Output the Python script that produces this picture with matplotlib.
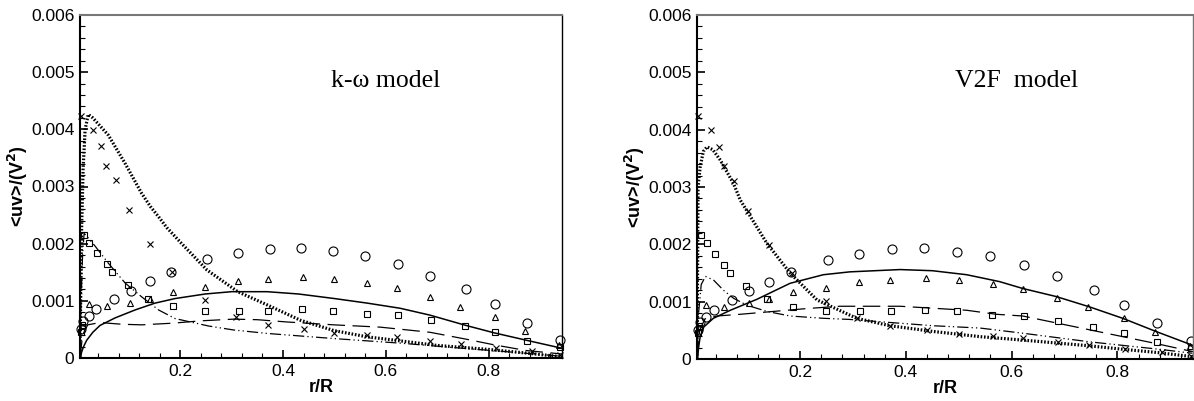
import numpy as np
import matplotlib.pyplot as plt
from matplotlib.ticker import MultipleLocator, FuncFormatter

# --- experimental points (same in both panels) ---
r_circ = [0.006, 0.010, 0.022, 0.037, 0.071, 0.104, 0.141, 0.182, 0.252, 0.312, 0.374, 0.435,
          0.497, 0.560, 0.623, 0.686, 0.756, 0.812, 0.874, 0.940]
uv_circ = [0.00050, 0.00064, 0.00074, 0.00085, 0.00103, 0.00118, 0.00135, 0.00151, 0.00173, 0.00183,
           0.00191, 0.00193, 0.00187, 0.00179, 0.00164, 0.00144, 0.00120, 0.00094, 0.00062, 0.00031]

r_tri = [0.022, 0.057, 0.103, 0.141, 0.186, 0.249, 0.312, 0.370, 0.438, 0.500, 0.564, 0.622,
         0.686, 0.744, 0.812, 0.871, 0.938]
uv_tri = [0.00095, 0.00091, 0.00097, 0.00104, 0.00116, 0.00124, 0.00135, 0.00138, 0.00142, 0.00138,
          0.00131, 0.00122, 0.00107, 0.00090, 0.00071, 0.00047, 0.00022]

r_sq = [0.006, 0.009, 0.012, 0.023, 0.039, 0.057, 0.068, 0.098, 0.138, 0.186, 0.249, 0.314, 0.371,
        0.437, 0.497, 0.563, 0.624, 0.688, 0.754, 0.812, 0.874, 0.939]
uv_sq = [0.00046, 0.00058, 0.00216, 0.00202, 0.00183, 0.00164, 0.00150, 0.00127, 0.00104, 0.00091,
         0.00083, 0.00083, 0.00083, 0.00085, 0.00083, 0.00077, 0.00075, 0.00066, 0.00056, 0.00045,
         0.00030, 0.00020]

r_x = [0.007, 0.031, 0.046, 0.056, 0.075, 0.101, 0.142, 0.185, 0.249, 0.308, 0.370, 0.440, 0.500,
       0.564, 0.622, 0.687, 0.747, 0.815, 0.885, 0.940]
uv_x = [0.00424, 0.00399, 0.00370, 0.00336, 0.00311, 0.00259, 0.00199, 0.00150, 0.00102, 0.00071,
        0.00058, 0.00051, 0.00043, 0.00040, 0.00036, 0.00029, 0.00024, 0.00017, 0.00013, 0.00005]

# --- k-omega model ---
kw_r_dot = [0.005, 0.006, 0.008, 0.011, 0.015, 0.021, 0.030, 0.045, 0.060, 0.093, 0.125, 0.142,
            0.158, 0.174, 0.203, 0.252, 0.312, 0.369, 0.434, 0.499, 0.564, 0.628, 0.700, 0.800,
            0.870, 0.943]
kw_uv_dot = [0.0, 0.0008, 0.0022, 0.0033, 0.0040, 0.00426, 0.00420, 0.00405, 0.00390, 0.00340,
             0.00288, 0.00265, 0.00247, 0.00228, 0.00200, 0.00154, 0.00116, 0.00093, 0.00066,
             0.00048, 0.00037, 0.00030, 0.00022, 0.00015, 0.00009, 0.00002]

kw_r_sol = [0.006, 0.008, 0.012, 0.018, 0.030, 0.044, 0.073, 0.112, 0.151, 0.190, 0.249, 0.300,
            0.369, 0.430, 0.500, 0.564, 0.628, 0.686, 0.756, 0.811, 0.874, 0.943]
kw_uv_sol = [0.0, 0.00010, 0.00020, 0.00031, 0.00045, 0.00057, 0.00070, 0.00084, 0.00096, 0.00104,
             0.00112, 0.00116, 0.00116, 0.00112, 0.00104, 0.00096, 0.00087, 0.00075, 0.00057,
             0.00044, 0.00031, 0.00017]

kw_r_dash = [0.005, 0.010, 0.020, 0.044, 0.087, 0.125, 0.187, 0.240, 0.304, 0.350, 0.408, 0.499,
             0.589, 0.686, 0.756, 0.811, 0.874, 0.943]
kw_uv_dash = [0.0, 0.00040, 0.00058, 0.00062, 0.00059, 0.00058, 0.00061, 0.00065, 0.00068,
              0.00067, 0.00063, 0.00058, 0.00054, 0.00045, 0.00033, 0.00023, 0.00013, 0.00007]

kw_r_dd = [0.005, 0.007, 0.010, 0.013, 0.021, 0.035, 0.060, 0.093, 0.125, 0.158, 0.190, 0.255,
           0.304, 0.369, 0.499, 0.628, 0.750, 0.850, 0.943]
kw_uv_dd = [0.0, 0.0010, 0.0018, 0.00218, 0.00210, 0.00195, 0.00166, 0.00131, 0.00107, 0.00084,
            0.00069, 0.00056, 0.00049, 0.00043, 0.00034, 0.00026, 0.00017, 0.00010, 0.00003]

# --- V2F model ---
v2f_r_dot = [0.005, 0.006, 0.007, 0.011, 0.017, 0.024, 0.035, 0.049, 0.074, 0.087, 0.137, 0.181,
             0.232, 0.307, 0.370, 0.452, 0.540, 0.621, 0.747, 0.810, 0.879, 0.942]
v2f_uv_dot = [0.0, 0.0015, 0.0030, 0.00335, 0.00362, 0.00370, 0.00365, 0.00347, 0.00306, 0.00277,
              0.00202, 0.00150, 0.00103, 0.00071, 0.00058, 0.00048, 0.00039, 0.00033, 0.00023,
              0.00017, 0.00011, 0.00004]

v2f_r_sol = [0.006, 0.008, 0.011, 0.018, 0.036, 0.068, 0.118, 0.181, 0.244, 0.294, 0.389, 0.450,
             0.515, 0.577, 0.621, 0.684, 0.747, 0.810, 0.873, 0.942]
v2f_uv_sol = [0.0, 0.00020, 0.00039, 0.00056, 0.00071, 0.00085, 0.00104, 0.00132, 0.00147,
              0.00152, 0.00156, 0.00154, 0.00147, 0.00135, 0.00123, 0.00109, 0.00091, 0.00071,
              0.00048, 0.00024]

v2f_r_dash = [0.005, 0.010, 0.020, 0.043, 0.087, 0.150, 0.213, 0.275, 0.389, 0.515, 0.571, 0.621,
              0.684, 0.747, 0.810, 0.873, 0.942]
v2f_uv_dash = [0.0, 0.00050, 0.00070, 0.00075, 0.00078, 0.00083, 0.00088, 0.00092, 0.00092,
               0.00085, 0.00078, 0.00075, 0.00063, 0.00051, 0.00039, 0.00027, 0.00013]

v2f_r_dd = [0.005, 0.008, 0.013, 0.021, 0.036, 0.055, 0.074, 0.099, 0.137, 0.181, 0.244, 0.294,
            0.452, 0.540, 0.621, 0.747, 0.879, 0.942]
v2f_uv_dd = [0.0, 0.0008, 0.0013, 0.00144, 0.00138, 0.00120, 0.00106, 0.00094, 0.00083, 0.00075,
             0.00071, 0.00069, 0.00058, 0.00054, 0.00045, 0.00030, 0.00017, 0.00010]


def yfmt(v, pos):
    if abs(v) < 1e-12:
        return '0'
    return '%.3f' % v


def panel(ax, dot, sol, dash, dd, title, right_col):
    ax.plot(dot[0], dot[1], color='black', lw=2.3, linestyle=(0, (0.5, 0.55)))
    ax.plot(sol[0], sol[1], color='black', lw=1.1, linestyle='-')
    ax.plot(dash[0], dash[1], color='black', lw=0.9, linestyle=(0, (14, 6)))
    ax.plot(dd[0], dd[1], color='black', lw=0.9, linestyle=(0, (9, 2.5, 1, 2.5, 1, 2.5)))

    mk = dict(linestyle='none', markerfacecolor='none', markeredgecolor='black',
              markeredgewidth=0.8, clip_on=False)
    ax.plot(r_circ, uv_circ, marker='o', markersize=6.5, **mk)
    ax.plot(r_tri, uv_tri, marker='^', markersize=5, **mk)
    ax.plot(r_sq, uv_sq, marker='s', markersize=4.5, **mk)
    ax.plot(r_x, uv_x, marker='x', markersize=4, **mk)

    ax.set_xlim(0.005, 0.943)
    ax.set_ylim(0, 0.006)
    ax.xaxis.set_major_locator(MultipleLocator(0.2))
    ax.xaxis.set_minor_locator(MultipleLocator(0.04))
    ax.yaxis.set_major_locator(MultipleLocator(0.001))
    ax.yaxis.set_minor_locator(MultipleLocator(0.0002))
    ax.yaxis.set_major_formatter(FuncFormatter(yfmt))
    ax.xaxis.set_major_formatter(FuncFormatter(lambda v, p: '%.1f' % v))
    ax.tick_params(which='major', direction='in', length=6, width=1.2, labelsize=12.5, pad=4)
    ax.tick_params(which='minor', direction='in', length=3.5, width=0.8)
    ax.tick_params(top=False, right=False, which='both')
    for s in ['left', 'bottom']:
        ax.spines[s].set_linewidth(1.5)
    ax.spines['top'].set_color('#777777')
    ax.spines['top'].set_linewidth(1.5)
    ax.spines['right'].set_color(right_col)
    ax.spines['right'].set_linewidth(1.0)
    ax.set_xlabel('r/R', fontweight='bold', fontsize=13, labelpad=0)
    ax.set_ylabel('<uv>/(V$^2$)', fontweight='bold', fontsize=13, labelpad=1)
    ax.text(0.52, 0.79, title, transform=ax.transAxes, family='Liberation Serif', fontsize=18.5)


plt.rcParams['font.family'] = ['Liberation Sans', 'DejaVu Sans']
plt.rcParams['mathtext.default'] = 'bf'

fig = plt.figure(figsize=(11.94, 4.01), dpi=100)
ax1 = fig.add_axes([80 / 1194, 1 - 358 / 401, 482 / 1194, 343 / 401])
ax2 = fig.add_axes([697 / 1194, 1 - 359 / 401, 496 / 1194, 344 / 401])

panel(ax1, (kw_r_dot, kw_uv_dot), (kw_r_sol, kw_uv_sol), (kw_r_dash, kw_uv_dash),
      (kw_r_dd, kw_uv_dd), 'k-ω model', 'black')
panel(ax2, (v2f_r_dot, v2f_uv_dot), (v2f_r_sol, v2f_uv_sol), (v2f_r_dash, v2f_uv_dash),
      (v2f_r_dd, v2f_uv_dd), 'V2F  model', '#777777')

plt.savefig('out.png', dpi=100)
